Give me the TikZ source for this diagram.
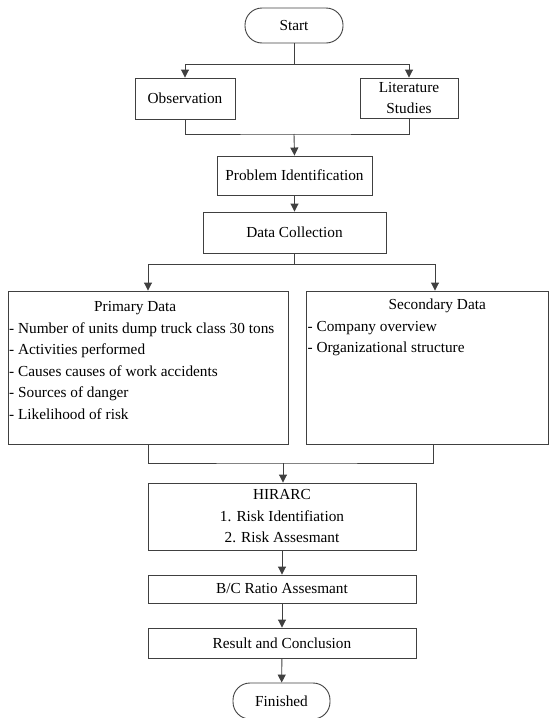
\documentclass[tikz,border=0pt]{standalone}
\usepackage{fontspec}
\setmainfont{Liberation Serif}
\usetikzlibrary{positioning,arrows.meta}

\begin{document}
\begin{tikzpicture}[
    x=1pt, y=-1pt,
    every node/.style={font=\fontsize{15.3}{21.5}\selectfont},
    blk/.style={rectangle, draw=black!75, line width=0.9pt, align=center,
                inner sep=0pt},
    term/.style={blk, rounded corners=17pt},
    ln/.style={draw=black!75, line width=0.9pt},
    arr/.style={ln, -{Triangle[width=8pt,length=8pt]}},
]
    \path[use as bounding box, clip] (0,0) rectangle (554,718);
    \node[term, minimum width=98, minimum height=35] (start) at (294,25.5) {Start};
    \node[blk, minimum width=100, minimum height=41] (obs) at (185,98.5) {Observation};
    \node[blk, minimum width=98, minimum height=40] (lit) at (409,98) {Literature\\Studies};
    \node[blk, minimum width=155, minimum height=39] (prob) at (294.5,175.5)
        {Problem Identification};
    \node[blk, minimum width=183, minimum height=41] (coll) at (294.5,232.5)
        {Data Collection};
    %% data boxes, text set from the top left corner
    \node[blk, minimum width=280, minimum height=153] (prim) at (148,367.5) {};
    \node[blk, minimum width=242, minimum height=153] (sec) at (427,367.5) {};
    \node[anchor=north west, align=left, inner sep=0pt] (primtxt) at (9,301.5)
        {\makebox[252pt]{Primary Data}\\
         - Number of units dump truck class 30 tons\\
         - Activities performed\\
         - Causes causes of work accidents\\
         - Sources of danger\\
         - Likelihood of risk};
    \node[anchor=north west, align=left, inner sep=0pt] (sectxt) at (307.5,299)
        {\makebox[259pt]{Secondary Data}\\
         - Company overview\\
         - Organizational structure};
    \node[blk, minimum width=268, minimum height=67] (hir) at (282,516.5)
        {HIRARC\\1. Risk Identifiation\\2. Risk Assesmant};
    \node[blk, minimum width=268, minimum height=28] (bc) at (282,589)
        {B/C Ratio Assesmant};
    \node[blk, minimum width=268, minimum height=30] (res) at (282,643)
        {Result and Conclusion};
    \node[term, minimum width=97, minimum height=36] (fin) at (281.5,701) {Finished};
    %% split and merge lines
    \coordinate (m1) at (294,134);
    \coordinate (m2) at (283,463);
    \draw[arr] (start.south) -- ++(0,21) -| (obs.north);
    \draw[arr] (start.south) -- ++(0,21) -| (lit.north);
    \draw[ln] (obs.south) |- (m1) -| (lit.south);
    \draw[arr] (m1) -- (prob.north);
    \draw[arr] (prob) -- (coll);
    \draw[arr] (coll.south) -- ++(0,11) -| (prim.north);
    \draw[arr] (coll.south) -- ++(0,11) -| ([xshift=8]sec.north);
    \draw[ln] (prim.south) |- (m2) -| ([xshift=6]sec.south);
    \draw[arr] (m2) -- (m2 |- hir.north);
    \draw[arr] (hir) -- (bc);
    \draw[arr] (bc) -- (res);
    \draw[arr] (res) -- (fin);
\end{tikzpicture}
\end{document}
